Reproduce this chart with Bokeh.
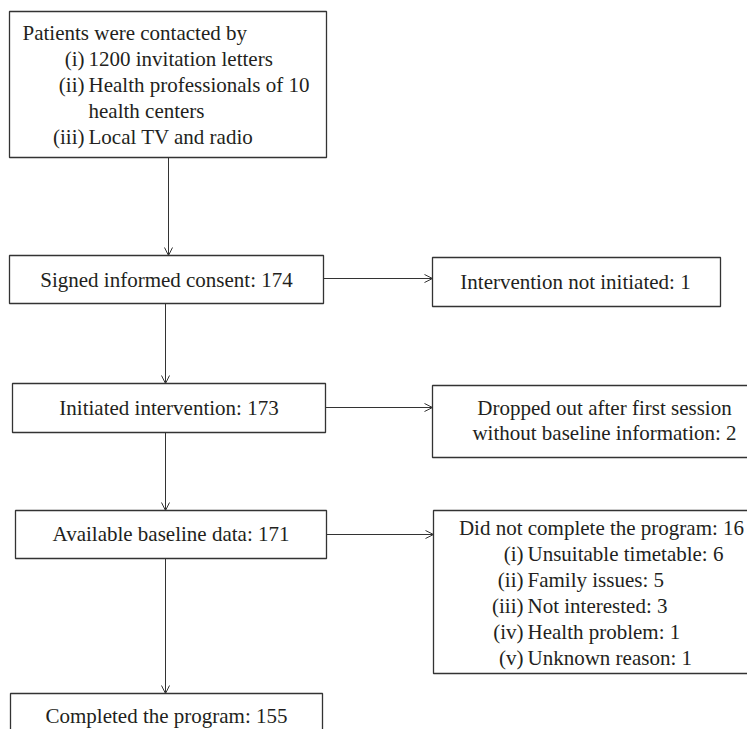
from bokeh.plotting import figure
from bokeh.models import Range1d, ColumnDataSource, Arrow, OpenHead
from bokeh.core.properties import value
from bokeh.embed import file_html
from bokeh.resources import INLINE

# ---- data (texts and counts) ----
contact_header = "Patients were contacted by"
contact_marks = ["(i)", "(ii)", "", "(iii)"]
contact_items = ["1200 invitation letters", "Health professionals of 10", "health centers", "Local TV and radio"]

flow_labels = ["Signed informed consent", "Initiated intervention", "Available baseline data", "Completed the program"]
flow_counts = [174, 173, 171, 155]

excluded_labels = ["Intervention not initiated", "Dropped out after first session|without baseline information", "Did not complete the program"]
excluded_counts = [1, 2, 16]

reason_marks = ["(i)", "(ii)", "(iii)", "(iv)", "(v)"]
reason_labels = ["Unsuitable timetable", "Family issues", "Not interested", "Health problem", "Unknown reason"]
reason_counts = [6, 5, 3, 1, 1]

# ---- layout (pixels) ----
FONT = value("Liberation Serif")
FS = "21px"
TXT = "#231f20"
LN = "#333333"
LH = 26

p = figure(width=747, height=729, x_range=Range1d(0, 747), y_range=Range1d(729, 0),
           x_axis_type=None, y_axis_type=None, toolbar_location=None,
           output_backend="svg", min_border=0)
p.outline_line_color = None
p.background_fill_color = "white"

# box geometry
main_l = [9, 12, 15, 10]
main_r = [323, 325, 326, 322]
main_t = [255, 383, 510, 693]
main_b = [303, 432, 558, 770]
side_l = [432, 432, 433]
side_r = [720, 775, 775]
side_t = [257, 385, 510]
side_b = [306, 457, 673]

boxes = ColumnDataSource(dict(
    left=[9] + main_l + side_l,
    right=[326] + main_r + side_r,
    top=[11] + main_t + side_t,
    bottom=[157] + main_b + side_b,
))
p.quad(left="left", right="right", top="top", bottom="bottom", source=boxes,
       fill_color=None, line_color=LN, line_width=1.3)

# arrows
down = ColumnDataSource(dict(
    xs=[168, 165, 165, 165],
    ys=[157] + main_b[:3],
    xe=[168, 165, 165, 165],
    ye=main_t,
))
p.add_layout(Arrow(end=OpenHead(size=8, line_width=1, line_color=LN),
                   x_start="xs", y_start="ys", x_end="xe", y_end="ye",
                   source=down, line_color=LN, line_width=1))
side = ColumnDataSource(dict(
    xs=main_r[:3], ys=[278, 407, 534],
    xe=side_l, ye=[278, 407, 534],
))
p.add_layout(Arrow(end=OpenHead(size=8, line_width=1, line_color=LN),
                   x_start="xs", y_start="ys", x_end="xe", y_end="ye",
                   source=side, line_color=LN, line_width=1))

def txt(x, y, t, align):
    p.text(x=x, y=y, text=t, text_font=FONT, text_font_size=FS, text_color=TXT,
           text_align=align, text_baseline="middle")

# box 1
txt([22], [32], [contact_header], "left")
cy = [32 + LH * (i + 1) for i in range(len(contact_items))]
txt([84] * len(contact_marks), cy, contact_marks, "right")
txt([88] * len(contact_items), cy, contact_items, "left")

# main flow boxes
mx = [(l + r) / 2 for l, r in zip(main_l, main_r)]
my = [279, 407, 533, 715]
txt(mx, my, [f"{a}: {c}" for a, c in zip(flow_labels, flow_counts)], "center")

# side boxes
t1 = f"{excluded_labels[0]}: {excluded_counts[0]}"
txt([575], [281], [t1], "center")
d_lines = f"{excluded_labels[1]}: {excluded_counts[1]}".split("|")
txt([604, 604], [407, 432], d_lines, "center")
txt([601], [527], [f"{excluded_labels[2]}: {excluded_counts[2]}"], "center")
ry = [527 + LH * (i + 1) for i in range(len(reason_labels))]
txt([523] * len(reason_marks), ry, reason_marks, "right")
txt([527] * len(reason_labels), ry, [f"{a}: {c}" for a, c in zip(reason_labels, reason_counts)], "left")

open("out.html", "w").write(file_html(p, INLINE))
